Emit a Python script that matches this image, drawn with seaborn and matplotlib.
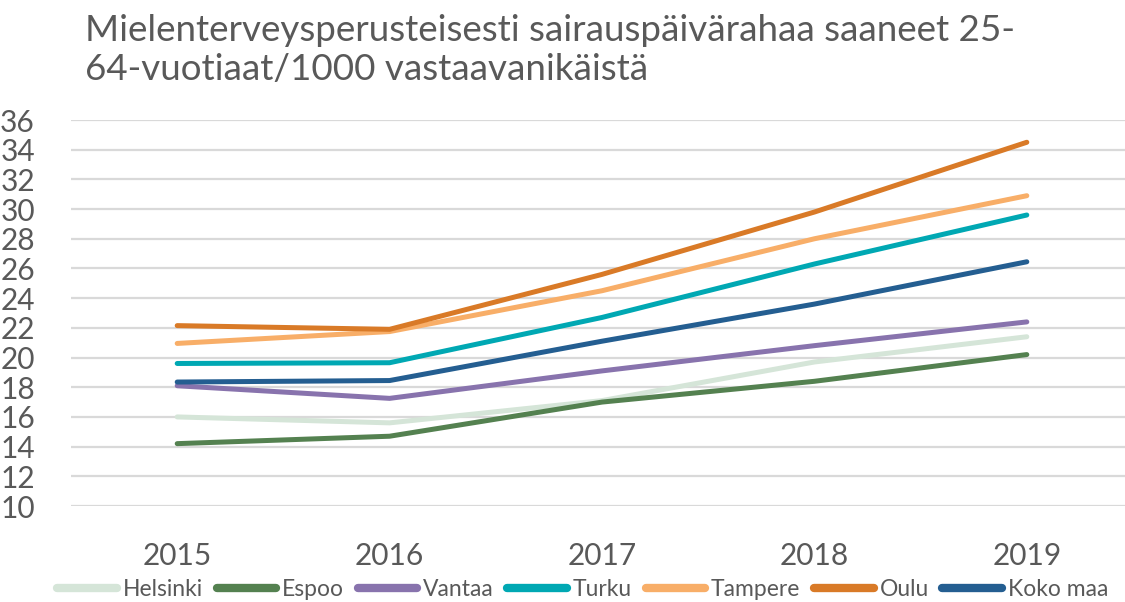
import pandas as pd
import seaborn as sns
import matplotlib.pyplot as plt

years = ["2015", "2016", "2017", "2018", "2019"]
helsinki = [16.0, 15.6, 17.1, 19.7, 21.4]
espoo = [14.2, 14.7, 17.0, 18.4, 20.2]
vantaa = [18.1, 17.25, 19.1, 20.8, 22.4]
turku = [19.6, 19.65, 22.7, 26.3, 29.6]
tampere = [20.95, 21.75, 24.5, 28.0, 30.9]
oulu = [22.15, 21.9, 25.6, 29.8, 34.5]
koko_maa = [18.35, 18.45, 21.1, 23.6, 26.45]

series = {
    "Helsinki": helsinki,
    "Espoo": espoo,
    "Vantaa": vantaa,
    "Turku": turku,
    "Tampere": tampere,
    "Oulu": oulu,
    "Koko maa": koko_maa,
}
colors = {
    "Helsinki": "#d5e5d8",
    "Espoo": "#548150",
    "Vantaa": "#8873ad",
    "Turku": "#00a8b3",
    "Tampere": "#f8ae68",
    "Oulu": "#d97a27",
    "Koko maa": "#245e91",
}

df = pd.DataFrame(
    [(name, y, v) for name, vals in series.items() for y, v in zip(years, vals)],
    columns=["alue", "vuosi", "arvo"],
)

sns.set_theme(style="white")
plt.rcParams['font.family'] = ['Lato', 'DejaVu Sans']
text_col = "#595959"

fig = plt.figure(figsize=(11.25, 6.02), dpi=100)
ax = fig.add_axes([71 / 1125, 96 / 602, 1062 / 1125, 386 / 602])

sns.lineplot(data=df, x="vuosi", y="arvo", hue="alue", palette=colors,
             linewidth=3.6, ax=ax, sort=False, legend=False,
             solid_capstyle="round", solid_joinstyle="round")

ax.set_ylim(10, 36)
ax.set_xlim(-0.5, 4.5)
ax.set_yticks(range(10, 37, 2))
ax.yaxis.grid(True, color="#d9d9d9", linewidth=1.6)
ax.xaxis.grid(False)
ax.set_axisbelow(True)
for s in ax.spines.values():
    s.set_visible(False)
ax.set_xlabel("")
ax.set_ylabel("")
ax.tick_params(axis="y", length=0, pad=26, labelsize=21.5, labelcolor=text_col)
ax.tick_params(axis="x", length=0, pad=26, labelsize=21.5, labelcolor=text_col)

fig.text(85 / 1125, 1 - 50 / 602,
         "Mielenterveysperusteisesti sairauspäivärahaa saaneet 25-\n64-vuotiaat/1000 vastaavanikäistä",
         fontsize=26.5, color=text_col, ha="left", va="center", linespacing=1.25)

handles = [plt.Line2D([], [], color=colors[n], linewidth=6, solid_capstyle="round") for n in series]
fig.legend(handles, list(series.keys()), loc="center", bbox_to_anchor=(0.518, 1 - 590 / 602),
           ncol=7, frameon=False, fontsize=16.5, labelcolor=text_col,
           handlelength=2.6, handletextpad=0.25, columnspacing=0.6)

fig.savefig("out.png", dpi=100)
